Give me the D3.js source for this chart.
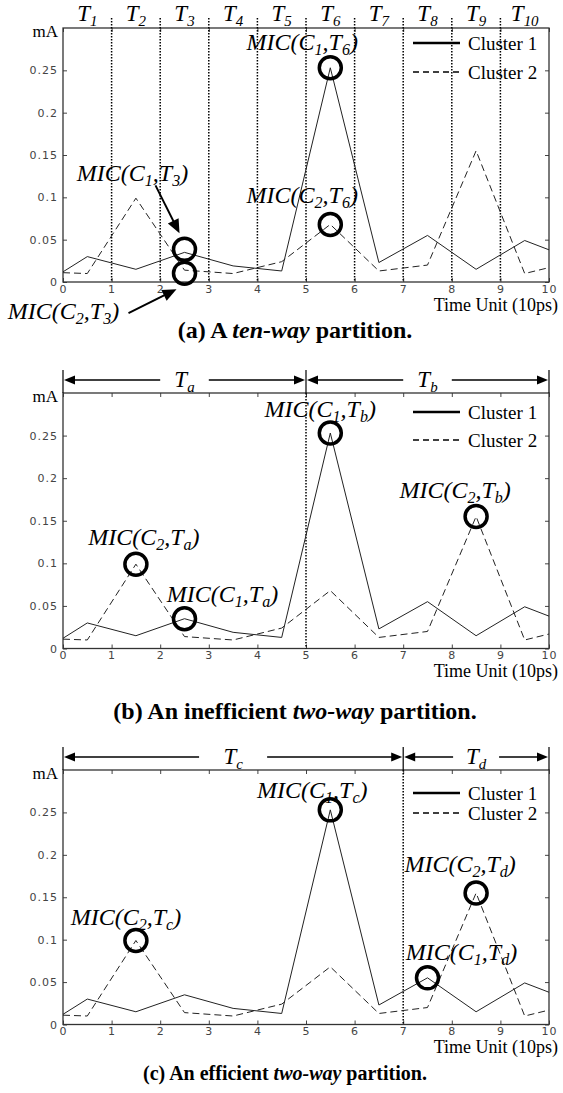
<!DOCTYPE html>
<html>
<head>
<meta charset="utf-8">
<script src="https://cdnjs.cloudflare.com/ajax/libs/d3/7.8.5/d3.min.js"></script>
<style>
  body { margin: 0; background: #fff; }
  svg { display: block; }
</style>
</head>
<body>
<script>
// Define SVG area dimensions
var svgWidth = 563;
var svgHeight = 1093;

// Sample times (10ps units) and current of each cluster (mA)
var timeUnits = [0, 0.5, 1.5, 2.5, 3.5, 4.5, 5.5, 6.5, 7.5, 8.5, 9.5, 10];
var cluster1 = [0.012, 0.030, 0.015, 0.035, 0.019, 0.013, 0.253, 0.023, 0.055, 0.015, 0.049, 0.038];
var cluster2 = [0.011, 0.010, 0.099, 0.014, 0.010, 0.024, 0.068, 0.013, 0.020, 0.155, 0.010, 0.017];

// Axis ticks
var xTicks = [0, 1, 2, 3, 4, 5, 6, 7, 8, 9, 10];
var yTicks = [0, 0.05, 0.1, 0.15, 0.2, 0.25];
var yTickLabels = ["0", "0.05", "0.1", "0.15", "0.2", "0.25"];
var legendNames = ["Cluster 1", "Cluster 2"];

// Partitions: window boundaries and window names
var tenWayBounds = [0, 1, 2, 3, 4, 5, 6, 7, 8, 9, 10];
var tenWayNames = ["1", "2", "3", "4", "5", "6", "7", "8", "9", "10"];
var inefficientBounds = [0, 5, 10];
var inefficientNames = ["a", "b"];
var efficientBounds = [0, 7, 10];
var efficientNames = ["c", "d"];

// MIC points: [cluster, window, time]
var micTenWay = [[1, "6", 5.5], [2, "6", 5.5], [1, "3", 2.5], [2, "3", 2.5]];
var micInefficient = [[2, "a", 1.5], [1, "a", 2.5], [1, "b", 5.5], [2, "b", 8.5]];
var micEfficient = [[2, "c", 1.5], [1, "c", 5.5], [2, "d", 8.5], [1, "d", 7.5]];

// Captions: [plain, italic, plain]
var captions = [
  ["(a) A ", "ten-way", " partition."],
  ["(b) An inefficient ", "two-way", " partition."],
  ["(c) An efficient ", "two-way", " partition."]
];

var serif = "'Liberation Serif', 'Times New Roman', serif";
var sans = "'DejaVu Sans', sans-serif";

// layout of each panel (pixels)
var panels = [
  {top: 28, bottom: 282, bounds: tenWayBounds, names: tenWayNames, mic: micTenWay, caption: captions[0],
   captionY: 338, captionX: 295, captionSize: 24, unitDy: 29, legend: [15, 44], brackets: false,
   labelOff: [[-28, -18], [-28, -21], [-52, -68], [-121, 46]],
   ringOff: [0, 0, -3, 3],
   arrows: [null, null, [-29, -64, -5, -16], [-56, 40, -8, 16]]},
  {top: 393, bottom: 648.5, bounds: inefficientBounds, names: inefficientNames, mic: micInefficient, caption: captions[1],
   captionY: 719, captionX: 295, captionSize: 24, unitDy: 28, legend: [19, 47], brackets: true,
   labelOff: [[8, -19], [38, -17], [-10, -16], [-21, -18]],
   ringOff: [0, 0, 0, 0], arrows: []},
  {top: 770, bottom: 1024.5, bounds: efficientBounds, names: efficientNames, mic: micEfficient, caption: captions[2],
   captionY: 1080, captionX: 285, captionSize: 20, unitDy: 28.5, legend: [23, 43], brackets: true,
   labelOff: [[-10, -16], [-18, -12], [-16, -21], [34, -18]],
   ringOff: [0, 0, 0, 0], arrows: []}
];

var svg = d3.select("body")
  .append("svg")
  .attr("width", svgWidth)
  .attr("height", svgHeight);

var xScale = d3.scaleLinear()
  .domain([0, 10])
  .range([63, 549]);

// T with subscript
function windowLabel(text, name, size) {
  text.attr("font-family", serif).attr("font-style", "italic").attr("font-size", size)
    .attr("text-anchor", "middle").attr("fill", "#000");
  text.append("tspan").text("T");
  text.append("tspan").attr("font-size", size * 0.65).attr("dy", 5).text(name);
}

// MIC(Cx,Ty) label
function micLabel(text, cluster, win) {
  text.attr("font-family", serif).attr("font-style", "italic").attr("font-size", 24)
    .attr("text-anchor", "middle").attr("fill", "#000");
  text.append("tspan").text("MIC(C");
  text.append("tspan").attr("font-size", 16).attr("dy", 5).text(cluster);
  text.append("tspan").attr("dy", -5).text(",T");
  text.append("tspan").attr("font-size", 16).attr("dy", 5).text(win);
  text.append("tspan").attr("dy", -5).text(")");
}

function arrowHead(g, x, y, angle, len, half) {
  var c = Math.cos(angle), s = Math.sin(angle);
  var bx = x - c * len, by = y - s * len;
  g.append("path")
    .attr("d", `M${x},${y}L${bx - s * half},${by + c * half}L${bx + s * half},${by - c * half}Z`)
    .attr("fill", "#000");
}

function drawPanel(p) {
  var yScale = d3.scaleLinear()
    .domain([0, 0.3])
    .range([p.bottom, p.top]);
  var g = svg.append("g");

  // axes with inward ticks on all four sides
  var bottomAxis = d3.axisBottom(xScale).tickValues(xTicks).tickSizeInner(-4).tickSizeOuter(0).tickPadding(3);
  var topAxis = d3.axisTop(xScale).tickValues(xTicks).tickSizeInner(-4).tickSizeOuter(0).tickFormat("");
  var leftAxis = d3.axisLeft(yScale).tickValues(yTicks).tickSizeInner(-4).tickSizeOuter(0).tickPadding(5)
    .tickFormat((d, i) => yTickLabels[i]);
  var rightAxis = d3.axisRight(yScale).tickValues(yTicks).tickSizeInner(-4).tickSizeOuter(0).tickFormat("");

  var axes = [
    g.append("g").attr("transform", `translate(0,${p.bottom})`).call(bottomAxis),
    g.append("g").attr("transform", `translate(0,${p.top})`).call(topAxis),
    g.append("g").attr("transform", `translate(${xScale(0)},0)`).call(leftAxis),
    g.append("g").attr("transform", `translate(${xScale(10)},0)`).call(rightAxis)
  ];
  axes.forEach(function(a) {
    a.select(".domain").remove();
    a.selectAll(".tick line").attr("stroke", "#444");
    a.selectAll(".tick text").attr("font-family", sans).attr("font-size", 11)
      .attr("letter-spacing", 1).attr("fill", "#444");
  });

  // plot box
  g.append("rect")
    .attr("x", xScale(0)).attr("y", p.top)
    .attr("width", xScale(10) - xScale(0)).attr("height", p.bottom - p.top)
    .attr("fill", "none").attr("stroke", "#333").attr("stroke-width", 1.3);

  // mA and time unit labels
  g.append("text").attr("x", xScale(0) - 5).attr("y", p.top + 9)
    .attr("text-anchor", "end").attr("font-family", serif).attr("font-size", 17).text("mA");
  g.append("text").attr("x", 558).attr("y", p.bottom + p.unitDy)
    .attr("text-anchor", "end").attr("font-family", serif).attr("font-size", 18).text("Time Unit (10ps)");

  // partition boundaries
  var inner = p.bounds.slice(1, -1);
  g.selectAll(".sep").data(inner).enter().append("line")
    .attr("x1", d => xScale(d)).attr("x2", d => xScale(d))
    .attr("y1", p.brackets ? p.top : p.top - 10).attr("y2", p.bottom)
    .attr("stroke", "#000").attr("stroke-width", 1.5).attr("stroke-dasharray", "1.5,1.5");

  if (!p.brackets) {
    p.names.forEach(function(name, i) {
      var t = g.append("text")
        .attr("x", xScale((p.bounds[i] + p.bounds[i + 1]) / 2)).attr("y", 21);
      windowLabel(t, name, 23);
    });
  } else {
    var ay = p.top - 13;
    g.selectAll(".brk").data(p.bounds).enter().append("line")
      .attr("x1", d => xScale(d)).attr("x2", d => xScale(d))
      .attr("y1", p.top - 23).attr("y2", p.top)
      .attr("stroke", "#000").attr("stroke-width", 1.2);
    p.names.forEach(function(name, i) {
      var x0 = xScale(p.bounds[i]), x1 = xScale(p.bounds[i + 1]);
      var mid = (x0 + x1) / 2;
      var gap = Math.max(23, (x1 - x0) * 0.1);
      g.append("line").attr("x1", x0 + 8).attr("x2", mid - gap).attr("y1", ay).attr("y2", ay)
        .attr("stroke", "#000").attr("stroke-width", 1.5);
      g.append("line").attr("x1", mid + gap).attr("x2", x1 - 8).attr("y1", ay).attr("y2", ay)
        .attr("stroke", "#000").attr("stroke-width", 1.5);
      arrowHead(g, x0 + 1, ay, Math.PI, 11, 4.5);
      arrowHead(g, x1 - 1, ay, 0, 11, 4.5);
      var t = g.append("text").attr("x", mid).attr("y", ay + 7);
      windowLabel(t, name, 23);
    });
  }

  // data lines
  var drawLine = d3.line()
    .x((d, i) => xScale(timeUnits[i]))
    .y(d => yScale(d));
  g.append("path").attr("d", drawLine(cluster1))
    .attr("fill", "none").attr("stroke", "#222").attr("stroke-width", 1);
  g.append("path").attr("d", drawLine(cluster2))
    .attr("fill", "none").attr("stroke", "#222").attr("stroke-width", 1)
    .attr("stroke-dasharray", "7,4");

  // legend
  var lx = xScale(10);
  legendNames.forEach(function(name, i) {
    var ly = p.top + p.legend[i];
    g.append("line").attr("x1", lx - 136).attr("x2", lx - 89).attr("y1", ly).attr("y2", ly)
      .attr("stroke", "#000")
      .attr("stroke-width", i === 0 ? 2.5 : 1.5)
      .attr("stroke-dasharray", i === 0 ? null : "6,4");
    g.append("text").attr("x", lx - 81).attr("y", ly + 7)
      .attr("font-family", serif).attr("font-size", 19).text(name);
  });

  // MIC rings, labels and arrows
  p.mic.forEach(function(m, i) {
    var idx = timeUnits.indexOf(m[2]);
    var v = m[0] === 1 ? cluster1[idx] : cluster2[idx];
    var cx = xScale(m[2]), cy = yScale(v) + p.ringOff[i];
    g.append("circle").attr("cx", cx).attr("cy", cy).attr("r", 11)
      .attr("fill", "none").attr("stroke", "#000").attr("stroke-width", 3.5);
    var t = g.append("text")
      .attr("x", cx + p.labelOff[i][0]).attr("y", cy + p.labelOff[i][1]);
    micLabel(t, m[0], m[1]);
    var a = p.arrows[i];
    if (a) {
      var angle = Math.atan2(a[3] - a[1], a[2] - a[0]);
      g.append("line")
        .attr("x1", cx + a[0]).attr("y1", cy + a[1])
        .attr("x2", cx + a[2] - Math.cos(angle) * 10).attr("y2", cy + a[3] - Math.sin(angle) * 10)
        .attr("stroke", "#000").attr("stroke-width", 2);
      arrowHead(g, cx + a[2], cy + a[3], angle, 14, 6);
    }
  });

  // caption
  var cap = g.append("text").attr("x", p.captionX).attr("y", p.captionY)
    .attr("text-anchor", "middle").attr("font-family", serif)
    .attr("font-weight", "bold").attr("font-size", p.captionSize);
  cap.append("tspan").text(p.caption[0]);
  cap.append("tspan").attr("font-style", "italic").text(p.caption[1]);
  cap.append("tspan").text(p.caption[2]);
}

panels.forEach(drawPanel);
</script>
</body>
</html>
